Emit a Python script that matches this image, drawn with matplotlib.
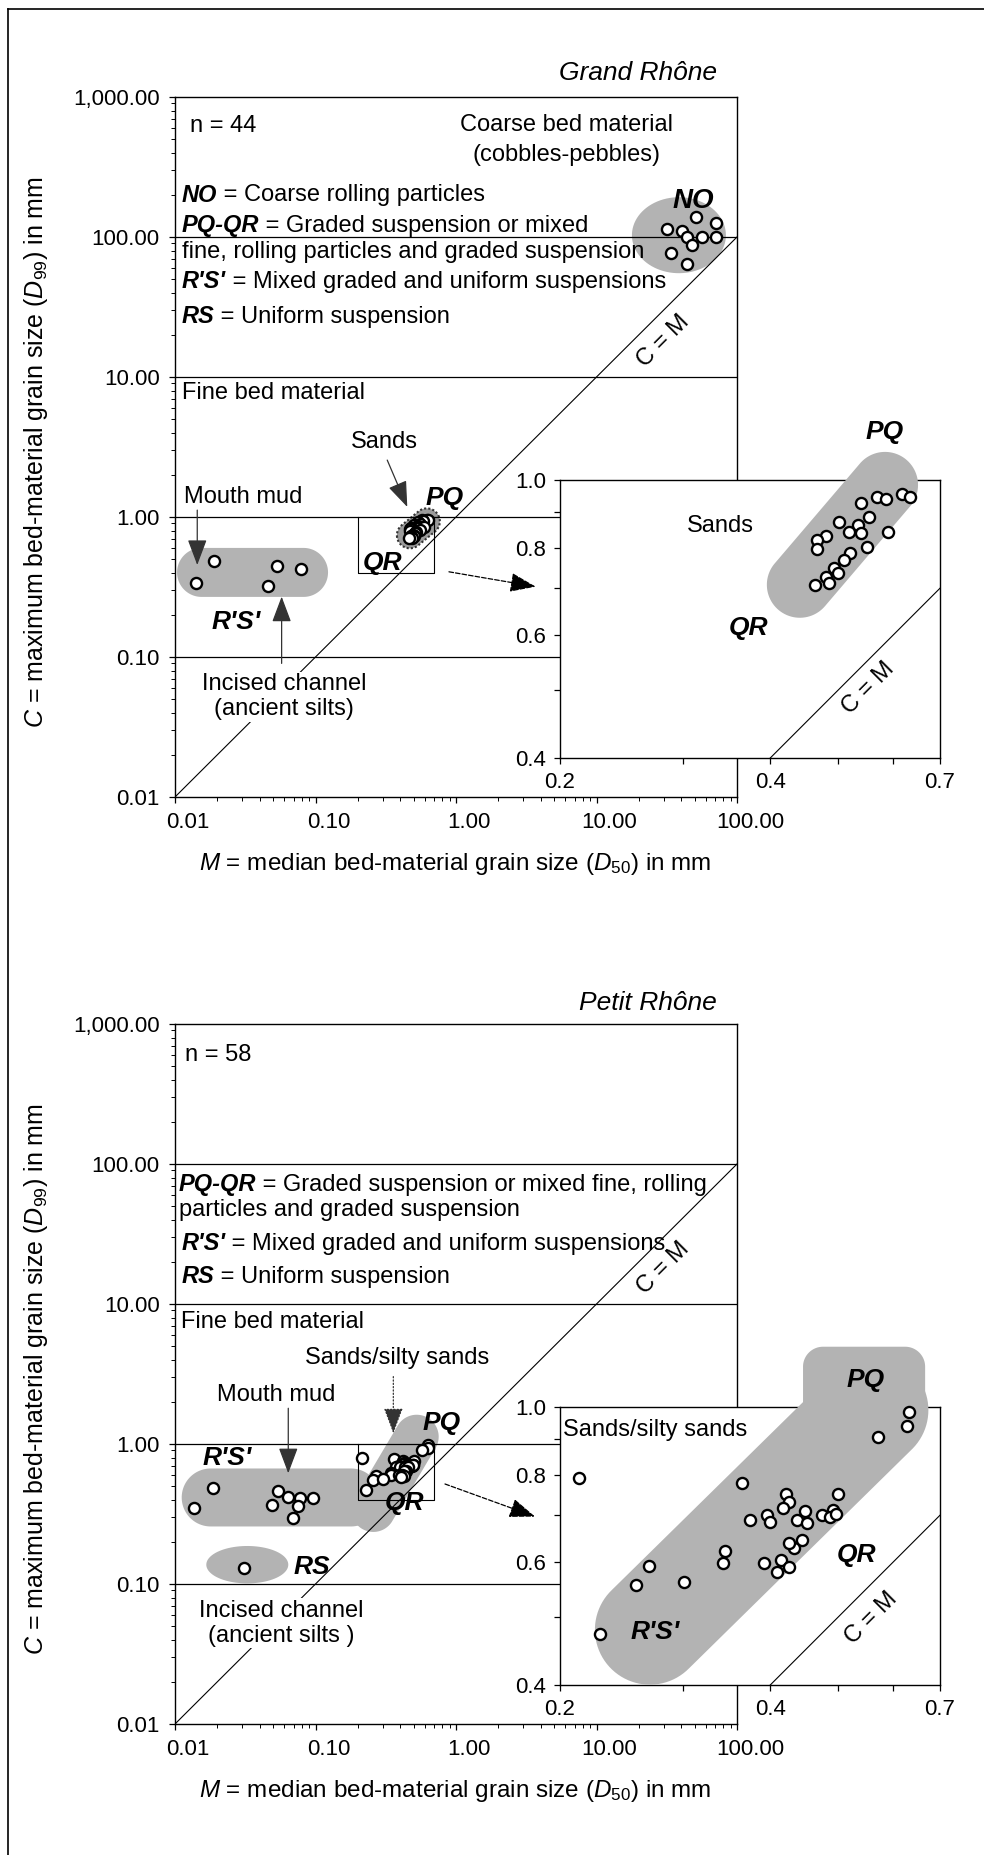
import numpy as np
import matplotlib
matplotlib.use("Agg")
import matplotlib.pyplot as plt
from matplotlib.lines import Line2D
from matplotlib.ticker import FixedLocator, FixedFormatter, NullFormatter, LogLocator
from matplotlib.transforms import ScaledTranslation

plt.rcParams['font.family'] = ['Liberation Sans', 'DejaVu Sans']
plt.rcParams['mathtext.fontset'] = 'custom'
plt.rcParams['mathtext.rm'] = 'Liberation Sans'
plt.rcParams['mathtext.it'] = 'Liberation Sans:italic'
plt.rcParams['mathtext.bf'] = 'Liberation Sans:bold'

W, H, DPI = 984, 1855, 100
GRAY = '#b3b3b3'

# ---- Grand Rhône samples (M = D50, C = D99, mm) ----
grand_coarse_m = [50.8, 70.5, 31.9, 40.4, 44.3, 56.6, 70.5, 48.1, 33.7, 44.3]
grand_coarse_c = [139.6, 125.2, 113.5, 111.0, 100.5, 100.5, 100.5, 87.7, 76.5, 64.1]
grand_mud_m = [0.0190, 0.0140, 0.0535, 0.0792, 0.0459]
grand_mud_c = [0.488, 0.339, 0.447, 0.423, 0.323]
grand_sand_m = [0.617, 0.634, 0.569, 0.585, 0.539, 0.554, 0.502, 0.535, 0.518, 0.539, 0.590,
                0.481, 0.467, 0.467, 0.550, 0.520, 0.510, 0.494, 0.500, 0.480, 0.486, 0.464]
grand_sand_c = [0.954, 0.945, 0.945, 0.938, 0.928, 0.886, 0.872, 0.862, 0.842, 0.841, 0.842,
                0.832, 0.821, 0.796, 0.803, 0.787, 0.767, 0.748, 0.736, 0.727, 0.713, 0.708]

# ---- Petit Rhône samples ----
petit_mud_m = [0.0187, 0.0137, 0.0543, 0.0640, 0.0776, 0.0965, 0.0488, 0.0747, 0.0695]
petit_mud_c = [0.483, 0.347, 0.462, 0.420, 0.410, 0.414, 0.366, 0.362, 0.298]
petit_rs_m = [0.031]
petit_rs_c = [0.13]
petit_sand_m = [0.633, 0.627, 0.571, 0.213, 0.364, 0.421, 0.500, 0.425, 0.417, 0.449, 0.396,
                0.492, 0.374, 0.400, 0.437, 0.474, 0.487, 0.497, 0.452, 0.444, 0.432, 0.425,
                0.345, 0.342, 0.392, 0.415, 0.425, 0.409, 0.268, 0.257, 0.301, 0.228]
petit_sand_c = [0.985, 0.939, 0.907, 0.791, 0.779, 0.751, 0.751, 0.730, 0.716, 0.710, 0.701,
                0.712, 0.689, 0.685, 0.689, 0.701, 0.695, 0.703, 0.683, 0.645, 0.628, 0.638,
                0.623, 0.598, 0.598, 0.604, 0.591, 0.581, 0.593, 0.556, 0.561, 0.473]

main_xticks = [0.01, 0.1, 1, 10, 100]
main_xlabels = ['0.01', '0.10', '1.00', '10.00', '100.00']
main_yticks = [0.01, 0.1, 1, 10, 100, 1000]
main_ylabels = ['0.01', '0.10', '1.00', '10.00', '100.00', '1,000.00']
inset_xticks = [0.2, 0.4, 0.7]
inset_yticks = [0.4, 0.6, 0.8, 1.0]


def px_rect(left, top, right, bottom):
    return [left / W, 1 - bottom / H, (right - left) / W, (bottom - top) / H]


def hull(p):
    p = sorted(map(tuple, p))
    def half(seq):
        out = []
        for q in seq:
            while len(out) >= 2 and ((out[-1][0] - out[-2][0]) * (q[1] - out[-2][1])
                                     - (out[-1][1] - out[-2][1]) * (q[0] - out[-2][0])) <= 0:
                out.pop()
            out.append(q)
        return out
    lo, up = half(p), half(p[::-1])
    return np.array(lo[:-1] + up[:-1])


def blob(ax, xs, ys, rx, ry=None, **kw):
    """Rounded region around data points, radius given in pixels."""
    ry = rx if ry is None else ry
    t = np.linspace(0, 2 * np.pi, 90)
    d = ax.transData.transform(np.column_stack([xs, ys]))
    pts = np.concatenate([np.column_stack([cx + rx * np.cos(t), cy + ry * np.sin(t)]) for cx, cy in d])
    poly = ax.transData.inverted().transform(hull(pts))
    kw.setdefault('facecolor', GRAY)
    kw.setdefault('edgecolor', 'none')
    kw.setdefault('zorder', 1)
    ax.fill(poly[:, 0], poly[:, 1], clip_on=False, **kw)


def rich(ax, x, y, parts, size=17):
    prev = None
    for s, bi in parts:
        kw = dict(fontsize=size, fontweight='bold' if bi else 'normal',
                  fontstyle='italic' if bi else 'normal')
        if prev is None:
            prev = ax.text(x, y, s, transform=ax.transAxes, ha='left', va='center', **kw)
        else:
            prev = ax.annotate(s, xy=(1, 0), xycoords=prev, ha='left', va='bottom', **kw)


def tag(ax, x, y, s, size=19, **kw):
    ax.text(x, y, s, fontsize=size, fontweight='bold', fontstyle='italic',
            ha='center', va='center', zorder=6, **kw)


def arrow(ax, start, end, ls='-', color='#333333'):
    ax.annotate('', xy=end, xytext=start,
                arrowprops=dict(arrowstyle='-|>,head_length=0.8,head_width=0.3', mutation_scale=20,
                                lw=0.9, color=color, linestyle=ls, shrinkA=0, shrinkB=0),
                zorder=6)


def points(ax, m, c):
    ax.plot(m, c, 'o', ms=8, mfc='white', mec='black', mew=1.7, ls='none', zorder=5, clip_on=False)


def main_axes(fig, top):
    ax = fig.add_axes(px_rect(175, top, 737, top + 700))
    ax.set_xscale('log')
    ax.set_yscale('log')
    ax.set_xlim(0.01, 100)
    ax.set_ylim(0.01, 1000)
    ax.xaxis.set_major_locator(FixedLocator(main_xticks))
    ax.xaxis.set_major_formatter(FixedFormatter(main_xlabels))
    ax.yaxis.set_major_locator(FixedLocator(main_yticks))
    ax.yaxis.set_major_formatter(FixedFormatter(main_ylabels))
    for axis in (ax.xaxis, ax.yaxis):
        axis.set_minor_locator(LogLocator(base=10, subs=np.arange(2, 10), numticks=20))
        axis.set_minor_formatter(NullFormatter())
    ax.tick_params(which='major', direction='out', length=4, width=0.9, labelsize=16, pad=7)
    ax.tick_params(which='minor', direction='out', length=3, width=0.7)
    for lbl in ax.get_xticklabels():
        lbl.set_transform(lbl.get_transform() + ScaledTranslation(0.13, 0, fig.dpi_scale_trans))
    for s in ax.spines.values():
        s.set_linewidth(1.0)
    for yv in (100, 10, 1, 0.1):
        ax.axhline(yv, color='black', lw=0.9, zorder=2)
    ax.plot([0.01, 100], [0.01, 100], color='black', lw=0.8, zorder=2)
    # outline of the enlarged window
    ax.plot([0.2, 0.2, 0.7, 0.7], [1.0, 0.4, 0.4, 1.0], color='black', lw=0.8, zorder=2)
    ax.text(30, 18, 'C = M', fontsize=17, rotation=45, ha='center', va='center')
    fig.text(36 / W, 1 - (top + 355) / H,
             r'$C$ = maximum bed-material grain size ($D_{99}$) in mm',
             rotation=90, fontsize=18, ha='center', va='center')
    fig.text(455 / W, 1 - (top + 767) / H,
             r'$M$ = median bed-material grain size ($D_{50}$) in mm',
             fontsize=17.5, ha='center', va='center')
    return ax


def inset_axes(fig, top):
    ax = fig.add_axes(px_rect(560, top, 940, top + 278))
    ax.set_xscale('log')
    ax.set_yscale('log')
    ax.set_xlim(0.2, 0.7)
    ax.set_ylim(0.4, 1.0)
    ax.xaxis.set_major_locator(FixedLocator(inset_xticks))
    ax.xaxis.set_major_formatter(FixedFormatter(['%.1f' % v for v in inset_xticks]))
    ax.xaxis.set_minor_locator(FixedLocator([0.3, 0.5, 0.6]))
    ax.yaxis.set_major_locator(FixedLocator(inset_yticks))
    ax.yaxis.set_major_formatter(FixedFormatter(['%.1f' % v for v in inset_yticks]))
    ax.yaxis.set_minor_locator(FixedLocator([0.5, 0.7, 0.9]))
    ax.xaxis.set_minor_formatter(NullFormatter())
    ax.yaxis.set_minor_formatter(NullFormatter())
    ax.tick_params(which='both', direction='out', length=4, width=0.9, labelsize=16, pad=6)
    for s in ax.spines.values():
        s.set_linewidth(1.0)
    ax.plot([0.4, 0.7], [0.4, 0.7], color='black', lw=0.8, zorder=2)
    return ax


fig = plt.figure(figsize=(W / DPI, H / DPI), dpi=DPI)

# page frame
fig.add_artist(Line2D([8 / W, 8 / W], [0, 1 - 9 / H], transform=fig.transFigure, color='black', lw=1.2))
fig.add_artist(Line2D([8 / W, 1], [1 - 9 / H, 1 - 9 / H], transform=fig.transFigure, color='black', lw=1.2))

# ================= Grand Rhône =================
ax = main_axes(fig, 97)
ax.text(0.9644, 1.034, 'Grand Rhône', transform=ax.transAxes, fontsize=19, fontstyle='italic',
        ha='right', va='center')
ax.text(0.027, 0.958, 'n = 44', transform=ax.transAxes, fontsize=17, va='center')
ax.text(0.6975, 0.96, 'Coarse bed material', transform=ax.transAxes, fontsize=17, ha='center', va='center')
ax.text(0.6975, 0.917, '(cobbles-pebbles)', transform=ax.transAxes, fontsize=17, ha='center', va='center')
rich(ax, 0.012, 0.860, [('NO', True), (' = Coarse rolling particles', False)])
rich(ax, 0.012, 0.817, [('PQ-QR', True), (' = Graded suspension or mixed', False)])
rich(ax, 0.012, 0.778, [('fine, rolling particles and graded suspension', False)])
rich(ax, 0.012, 0.736, [("R'S'", True), (' = Mixed graded and uniform suspensions', False)])
rich(ax, 0.012, 0.686, [('RS', True), (' = Uniform suspension', False)])
rich(ax, 0.012, 0.577, [('Fine bed material', False)])

blob(ax, [38.6], [103], 47, 38)
points(ax, grand_coarse_m, grand_coarse_c)
tag(ax, 49, 180, 'NO', size=20)

blob(ax, [0.01545, 0.0822], [0.402, 0.402], 24.5)
points(ax, grand_mud_m, grand_mud_c)
ax.text(0.01159, 1.39, 'Mouth mud', fontsize=17, ha='left', va='center')
arrow(ax, (0.0144, 1.12), (0.0144, 0.454))
tag(ax, 0.027, 0.179, "R'S'")
ax.text(0.0597, 0.052, 'Incised channel\n(ancient silts)', fontsize=17, ha='center', va='center',
        linespacing=1.2, bbox=dict(fc='white', ec='none', pad=1))
arrow(ax, (0.0574, 0.090), (0.0574, 0.27))

blob(ax, [0.47, 0.62], [0.74, 0.93], 13, facecolor='#9a9a9a', edgecolor='#333333',
     linestyle=(0, (1, 1)), linewidth=1.5)
points(ax, grand_sand_m, grand_sand_c)
ax.text(0.307, 3.45, 'Sands', fontsize=17, ha='center', va='center')
arrow(ax, (0.324, 2.55), (0.45, 1.18))
tag(ax, 0.823, 1.36, 'PQ')
tag(ax, 0.299, 0.467, 'QR')
arrow(ax, (0.891, 0.406), (3.69, 0.318), ls='--', color='black')

ins = inset_axes(fig, 480)
blob(ins, [0.441, 0.584], [0.708, 0.984], 33, zorder=3)
points(ins, grand_sand_m, grand_sand_c)
ins.text(0.339, 0.86, 'Sands', fontsize=17, ha='center', va='center')
tag(ins, 0.584, 1.172, 'PQ')
tag(ins, 0.372, 0.614, 'QR')
ins.text(0.553, 0.504, 'C = M', fontsize=17, rotation=45, ha='center', va='center')

# ================= Petit Rhône =================
ax = main_axes(fig, 1024)
ax.text(0.9644, 1.03, 'Petit Rhône', transform=ax.transAxes, fontsize=19, fontstyle='italic',
        ha='right', va='center')
ax.text(0.017, 0.956, 'n = 58', transform=ax.transAxes, fontsize=17, va='center')
rich(ax, 0.007, 0.770, [('PQ-QR', True), (' = Graded suspension or mixed fine, rolling', False)])
rich(ax, 0.007, 0.734, [('particles and graded suspension', False)])
rich(ax, 0.011, 0.687, [("R'S'", True), (' = Mixed graded and uniform suspensions', False)])
rich(ax, 0.011, 0.639, [('RS', True), (' = Uniform suspension', False)])
rich(ax, 0.011, 0.575, [('Fine bed material', False)])

blob(ax, [0.01795, 0.179], [0.415, 0.415], 29)
blob(ax, [0.258, 0.525], [0.338, 1.127], 22)
blob(ax, [0.0327], [0.1374], 41, 18.7)
points(ax, petit_mud_m, petit_mud_c)
points(ax, petit_rs_m, petit_rs_c)
points(ax, petit_sand_m, petit_sand_c)
ax.text(0.378, 4.09, 'Sands/silty sands', fontsize=17, ha='center', va='center')
arrow(ax, (0.358, 3.03), (0.358, 1.19), ls=':')
ax.text(0.0522, 2.24, 'Mouth mud', fontsize=17, ha='center', va='center')
arrow(ax, (0.064, 1.8), (0.064, 0.618))
tag(ax, 0.0233, 0.79, "R'S'")
tag(ax, 0.79, 1.41, 'PQ')
tag(ax, 0.433, 0.377, 'QR')
tag(ax, 0.094, 0.1315, 'RS')
ax.text(0.0574, 0.0524, 'Incised channel\n(ancient silts )', fontsize=17, ha='center', va='center',
        linespacing=1.2, bbox=dict(fc='white', ec='none', pad=1))
arrow(ax, (0.835, 0.518), (3.65, 0.303), ls='--', color='black')

ins = inset_axes(fig, 1407)
blob(ins, [0.269, 0.562], [0.48, 0.99], 55, zorder=3)
blob(ins, [0.476, 0.624, 0.624, 0.476], [1.142, 1.142, 0.958, 0.958], 20, zorder=3)
points(ins, petit_sand_m, petit_sand_c)
ins.text(0.2018, 0.927, 'Sands/silty sands', fontsize=17, ha='left', va='center', zorder=6)
tag(ins, 0.547, 1.093, 'PQ')
tag(ins, 0.532, 0.614, 'QR', bbox=dict(fc='white', ec='none', pad=3))
tag(ins, 0.274, 0.477, "R'S'")
ins.text(0.559, 0.499, 'C = M', fontsize=17, rotation=45, ha='center', va='center')

fig.savefig('out.png', dpi=DPI)
